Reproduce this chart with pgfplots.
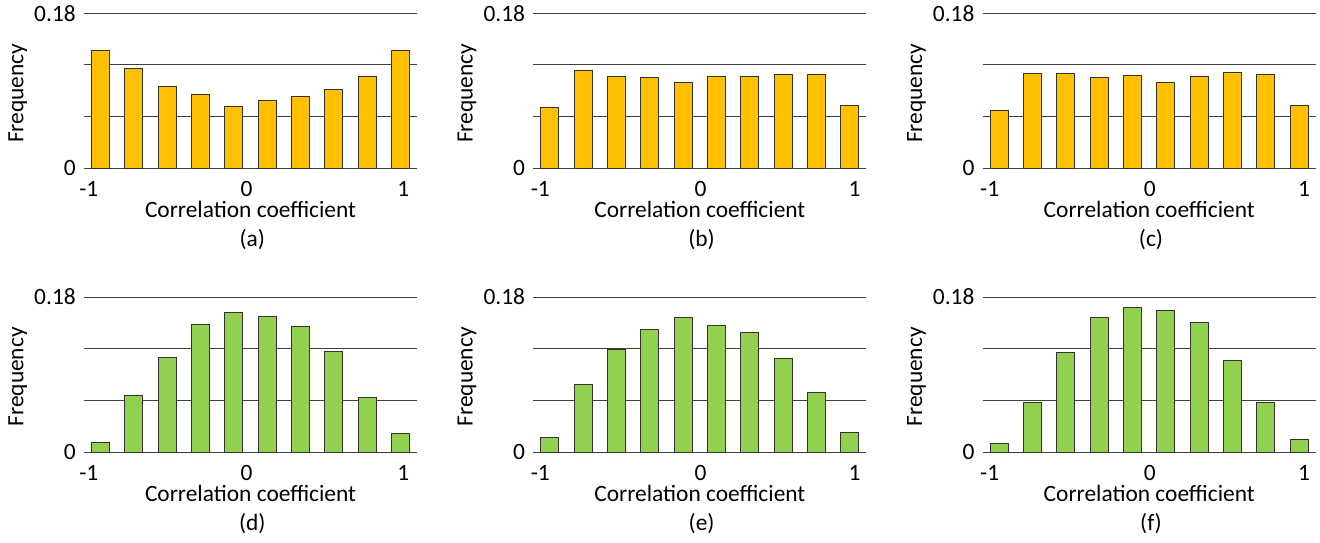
\documentclass[border=0pt]{standalone}
\usepackage{pgfplots}
\pgfplotsset{compat=1.18}
\usepackage{pgfplotstable}
\usepackage{fontspec}
\setmainfont{Carlito}
\definecolor{barY}{HTML}{FFC000}
\definecolor{barG}{HTML}{92D050}
\definecolor{gridc}{HTML}{404040}

\pgfplotstableread{
x a b c d e f
0 0.1363 0.0708 0.0677 0.0108 0.0174 0.0100
1 0.1154 0.1138 0.1103 0.0657 0.0788 0.0576
2 0.0952 0.1068 0.1103 0.1093 0.1190 0.1155
3 0.0855 0.1057 0.1057 0.1476 0.1418 0.1557
4 0.0716 0.0999 0.1080 0.1622 0.1557 0.1673
5 0.0782 0.1061 0.0991 0.1572 0.1472 0.1642
6 0.0836 0.1065 0.1068 0.1456 0.1391 0.1503
7 0.0917 0.1092 0.1115 0.1167 0.1082 0.1066
8 0.1068 0.1095 0.1092 0.0637 0.0691 0.0572
9 0.1370 0.0732 0.0732 0.0216 0.0232 0.0147
}\data

\newcommand{\fs}{\fontsize{11.7}{13.7}\selectfont}

\pgfplotsset{
  hist/.style={
    scale only axis, width=166.5pt, height=77.5pt,
    xmin=-0.5, xmax=9.5, ymin=0, ymax=0.18,
    clip=false,
    axis line style={draw=none},
    major tick length=0pt,
    ytick={0,0.06,0.12,0.18},
    yticklabels={0,,,0.18},
    ymajorgrids,
    grid style={draw=gridc, line width=0.5pt},
    /pgf/number format/assume math mode=true,
    tick label style={font=\fs},
    label style={font=\fs},
    xticklabel style={anchor=base, inner sep=0pt, yshift=-14.2pt},
    yticklabel style={xshift=-0.6pt},
    xlabel={Correlation coefficient},
    ylabel={Frequency},
    xlabel style={at={([yshift=-24.6pt]axis description cs:0.5,0)}, anchor=base, inner sep=0pt},
    ylabel style={at={([xshift=-30.3pt,yshift=-1.2pt]axis description cs:0,0.5)}, anchor=base, inner sep=0pt},
  },
  leftcol/.style={xtick={-0.356,4.38,9.085}, xticklabels={-1,0,1}},
  othercol/.style={xtick={-0.29,4.52,9.15}, xticklabels={-1,0,1}},
  hbar/.style={ybar, bar width=9pt, draw=black!80, line width=0.5pt},
}

\newcommand{\subcap}[1]{\node[font=\fs, anchor=center, inner sep=0pt] at ([yshift=-35.8pt,xshift=0.9pt]axis description cs:0.5,0) {(#1)};}

\begin{document}
\begin{tikzpicture}
\useasboundingbox (0,0) rectangle (660pt,271pt);

\begin{axis}[hist, leftcol, at={(42pt,186.85pt)}, anchor=south west]
\addplot[hbar, fill=barY] table[x=x,y=a]{\data};
\subcap{a}
\end{axis}

\begin{axis}[hist, othercol, at={(266.65pt,186.85pt)}, anchor=south west]
\addplot[hbar, fill=barY] table[x=x,y=b]{\data};
\subcap{b}
\end{axis}

\begin{axis}[hist, othercol, at={(491.35pt,186.85pt)}, anchor=south west]
\addplot[hbar, fill=barY] table[x=x,y=c]{\data};
\subcap{c}
\end{axis}

\begin{axis}[hist, leftcol, at={(42pt,45pt)}, anchor=south west]
\addplot[hbar, fill=barG] table[x=x,y=d]{\data};
\subcap{d}
\end{axis}

\begin{axis}[hist, othercol, at={(266.65pt,45pt)}, anchor=south west]
\addplot[hbar, fill=barG] table[x=x,y=e]{\data};
\subcap{e}
\end{axis}

\begin{axis}[hist, othercol, at={(491.35pt,45pt)}, anchor=south west]
\addplot[hbar, fill=barG] table[x=x,y=f]{\data};
\subcap{f}
\end{axis}

\end{tikzpicture}
\end{document}
